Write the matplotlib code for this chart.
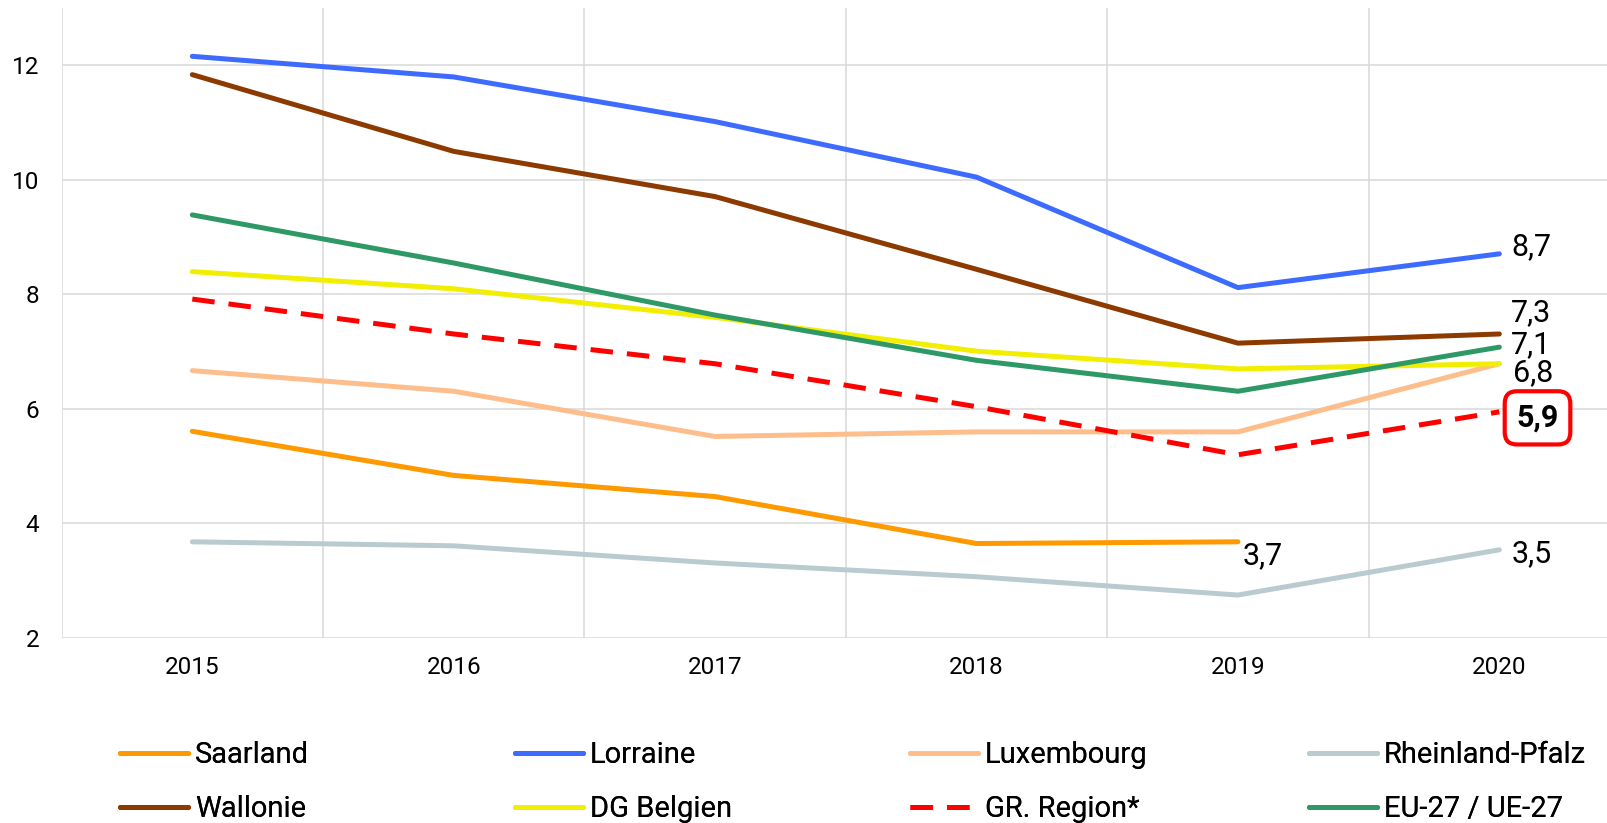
import matplotlib
matplotlib.use("Agg")
import matplotlib.pyplot as plt

plt.rcParams['font.family'] = ['Roboto', 'DejaVu Sans']

years = ['2015', '2016', '2017', '2018', '2019', '2020']

saarland = [5.61, 4.84, 4.47, 3.65, 3.68, None]
lorraine = [12.16, 11.80, 11.02, 10.05, 8.12, 8.71]
luxembourg = [6.67, 6.31, 5.52, 5.60, 5.60, 6.79]
rheinland_pfalz = [3.68, 3.61, 3.31, 3.07, 2.75, 3.54]
wallonie = [11.84, 10.50, 9.71, 8.44, 7.15, 7.31]
dg_belgien = [8.40, 8.10, 7.60, 7.01, 6.70, 6.79]
gr_region = [7.92, 7.31, 6.79, 6.04, 5.20, 5.95]
eu27 = [9.39, 8.55, 7.64, 6.85, 6.31, 7.08]

series = [
    ('Saarland', saarland, '#FF9900', 'solid'),
    ('Lorraine', lorraine, '#3D6BFF', 'solid'),
    ('Luxembourg', luxembourg, '#FDBE8C', 'solid'),
    ('Rheinland-Pfalz', rheinland_pfalz, '#B9CBCE', 'solid'),
    ('Wallonie', wallonie, '#8C3A00', 'solid'),
    ('DG Belgien', dg_belgien, '#F2EE00', 'solid'),
    ('GR. Region*', gr_region, '#FF0000', 'dashed'),
    ('EU-27 / UE-27', eu27, '#2E9966', 'solid'),
]

# end labels: (series index, year index, text, dx px, dy px, bold)
end_labels = [
    (1, 5, '8,7', 12, 7, False),
    (4, 5, '7,3', 12, 21, False),
    (7, 5, '7,1', 12, 3, False),
    (5, 5, '6,8', 14, -9, False),
    (6, 5, '5,9', 17, -6, True),
    (3, 5, '3,5', 12, -4, False),
    (0, 4, '3,7', 5, -14, False),
]

fig = plt.figure(figsize=(16.08, 8.23), dpi=100)
ax = fig.add_axes([0.0383, 0.2248, 0.9754, 0.7652])

x = list(range(len(years)))
handles = []
for name, vals, color, style in series:
    xs = [i for i, v in zip(x, vals) if v is not None]
    ys = [v for v in vals if v is not None]
    if style == 'dashed':
        ln, = ax.plot(xs, ys, color=color, lw=3.6, dashes=(4.5, 2.8),
                      solid_capstyle='round', label=name)
    else:
        ln, = ax.plot(xs, ys, color=color, lw=3.6, solid_capstyle='round',
                      solid_joinstyle='round', label=name)
    handles.append(ln)

for si, yi, txt, dx, dy, bold in end_labels:
    val = series[si][1][yi]
    kw = {}
    if bold:
        kw['fontweight'] = 'bold'
        kw['bbox'] = dict(boxstyle='round,pad=0.38,rounding_size=0.4',
                          fc='white', ec='#FF0000', lw=3)
    ax.annotate(txt, (yi, val), xytext=(dx, dy), textcoords='offset pixels',
                ha='left', va='center', fontsize=22, color='black', **kw)

ax.set_xlim(-0.5, 5.5)
ax.set_ylim(2, 13)
ax.set_xticks(x)
ax.set_xticklabels(years)
ax.set_xticks([i + 0.5 for i in range(-1, 6)], minor=True)
ax.set_yticks([2, 4, 6, 8, 10, 12])
ax.tick_params(axis='both', which='both', length=0, labelsize=17.5)
ax.tick_params(axis='x', pad=13)
ax.tick_params(axis='y', pad=16)
ax.grid(axis='y', which='major', color='#D9D9D9', lw=1.1)
ax.grid(axis='x', which='minor', color='#D9D9D9', lw=1.1)
for s in ax.spines.values():
    s.set_visible(False)
ax.set_axisbelow(True)

# legend: four columns with two rows each
col_x = [0.0746, 0.320, 0.566, 0.814]
order = [(0, 4), (1, 5), (2, 6), (3, 7)]
for cx, (a, b) in zip(col_x, order):
    leg = fig.legend([handles[a], handles[b]], [series[a][0], series[b][0]],
                     loc='upper left', bbox_to_anchor=(cx, 0.0995),
                     frameon=False, fontsize=21, handlelength=2.33,
                     handletextpad=0.24, labelspacing=0.88, borderpad=0,
                     borderaxespad=0)
    fig.add_artist(leg)

fig.savefig('out.png', dpi=100)
